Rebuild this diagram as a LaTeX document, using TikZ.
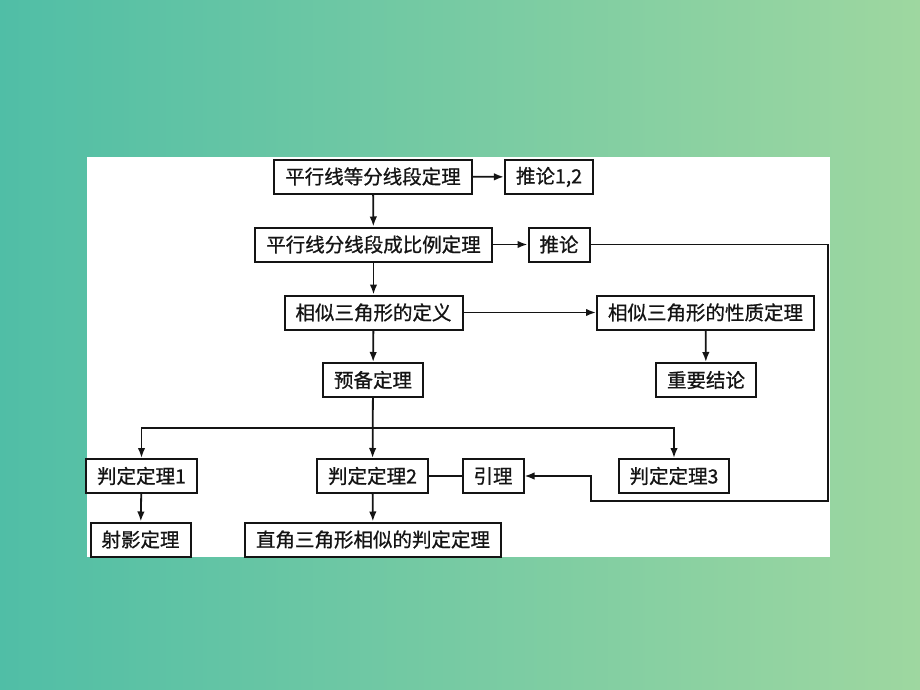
\documentclass[tikz,border=0pt]{standalone}
\usepackage{fontspec}
\usepackage{tikz}
\usetikzlibrary{calc, positioning, arrows.meta}
\setmainfont{Liberation Serif}
\newfontfamily\cjk[UprightFeatures={FakeBold=0.8}]{Noto Sans CJK SC}
\definecolor{BgTeal}{RGB}{80, 190, 166}
\definecolor{BgGreen}{RGB}{158, 215, 160}
\definecolor{InkBlack}{RGB}{20, 20, 20}

\tikzset{
    kasten/.style={draw=InkBlack, line width=2pt, fill=white, minimum height=34pt,
        inner xsep=11pt, inner ysep=2pt, font=\fontsize{19.5}{22}\selectfont\cjk, text=InkBlack},
    pfeil/.style={draw=InkBlack, line width=1.8pt, -{Latex[length=10pt,width=7.5pt]}},
    linie/.style={draw=InkBlack, line width=1.8pt}
}

\begin{document}
\begin{tikzpicture}[x=1pt, y=-1pt]
    \useasboundingbox (0,0) rectangle (920,690);
    % Hintergrund
    \shade[left color=BgTeal, right color=BgGreen] (0,0) rectangle (920,690);
    \fill[white] (87,157) rectangle (830,557);

    % Kaesten
    \node[kasten] (gleich)   at (373,176.5) {平行线等分线段定理};
    \node[kasten] (folge12)  at (549,177)   {推论1,2};
    \node[kasten] (prop)     at (373.5,244.5) {平行线分线段成比例定理};
    \node[kasten] (folge)    at (559,244.5) {推论};
    \node[kasten] (defi)     at (373.5,312.5) {相似三角形的定义};
    \node[kasten] (eigen)    at (705.5,312.5) {相似三角形的性质定理};
    \node[kasten] (wichtig)  at (706,380)   {重要结论};
    \node[kasten] (vorb)     at (373,380)   {预备定理};
    \node[kasten] (satz1)    at (141.5,476) {判定定理1};
    \node[kasten] (satz2)    at (372.5,476) {判定定理2};
    \node[kasten] (lemma)    at (493,476)   {引理};
    \node[kasten] (satz3)    at (674,476)   {判定定理3};
    \node[kasten] (projekt)  at (140.5,539.5) {射影定理};
    \node[kasten] (recht)    at (373,539.5) {直角三角形相似的判定定理};

    % Hilfspunkte
    \coordinate (gabel) at (373,428);
    \coordinate (eckeR) at (828,501);
    \coordinate (eckeL) at (591,501);

    % Verbindungen
    \draw[pfeil] (gleich) -- (folge12);
    \draw[pfeil] (gleich) -- (prop);
    \draw[pfeil] (prop) -- (folge);
    \draw[pfeil] (prop) -- (defi);
    \draw[pfeil] (defi) -- (eigen);
    \draw[pfeil] (eigen) -- (wichtig);
    \draw[pfeil] (defi) -- (vorb);
    \draw[pfeil] (vorb) -- (satz2);
    \draw[pfeil] (gabel) -| (satz1);
    \draw[pfeil] (gabel) -| (satz3);
    \draw[linie] (satz2) -- (lemma);
    \draw[pfeil] (folge.east) -| (eckeR) -- (eckeL) |- (lemma.east);
    \draw[pfeil] (satz1) -- (projekt);
    \draw[pfeil] (satz2) -- (recht);
\end{tikzpicture}
\end{document}
